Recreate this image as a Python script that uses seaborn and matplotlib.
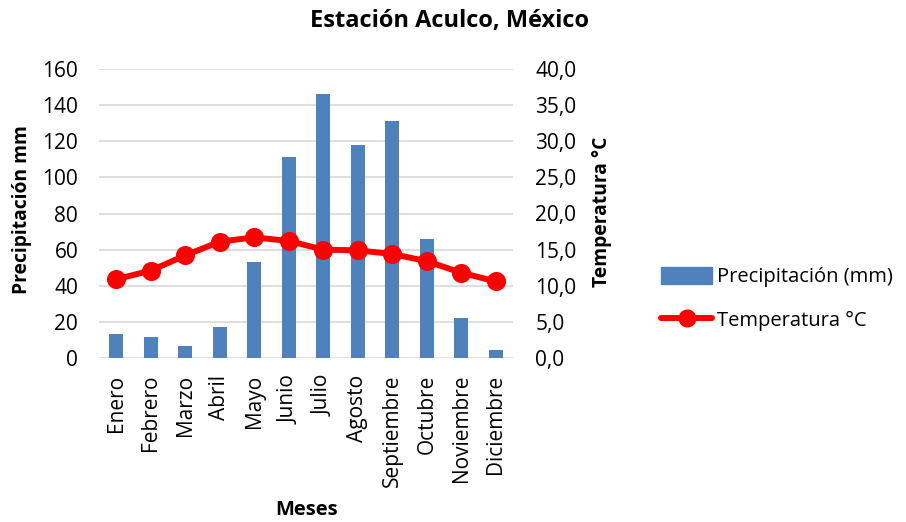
import matplotlib
matplotlib.use("Agg")
import matplotlib.pyplot as plt
import seaborn as sns
import pandas as pd
from matplotlib.lines import Line2D
from matplotlib.patches import Patch
from matplotlib.ticker import FuncFormatter

meses = ["Enero", "Febrero", "Marzo", "Abril", "Mayo", "Junio", "Julio",
         "Agosto", "Septiembre", "Octubre", "Noviembre", "Diciembre"]
precipitacion = [13.5, 11.7, 6.9, 16.9, 53.0, 111.5, 146.1, 117.8, 131.1, 65.9, 22.4, 4.3]
temperatura = [10.9, 12.1, 14.2, 16.1, 16.7, 16.2, 15.0, 14.9, 14.4, 13.4, 11.8, 10.6]

df = pd.DataFrame({"Mes": meses, "Precipitacion": precipitacion, "Temperatura": temperatura})

sns.set_theme(style="white")
FONT = "Open Sans"
plt.rcParams["font.family"] = [FONT, "DejaVu Sans"]
for k in ["text.color", "axes.labelcolor", "xtick.color", "ytick.color"]:
    plt.rcParams[k] = "black"

BLUE = "#4F81BD"
RED = "#FF0000"
GRID = "#D9D9D9"
FS = 15
FL = 13.9

W, H = 906, 522
fig = plt.figure(figsize=(W/100, H/100), dpi=100)
ax = fig.add_axes([99/W, 1-358/H, (513-99)/W, (358-69)/H])

sns.barplot(data=df, x="Mes", y="Precipitacion", color=BLUE, width=0.40,
            saturation=1, linewidth=0, ax=ax, zorder=2)
ax.set_ylim(0, 160)
ax.set_yticks(range(0, 161, 20))
ax.set_xlim(-0.5, 11.5)
ax.grid(axis="y", color=GRID, linewidth=1.2, zorder=0)
ax.set_axisbelow(True)
for s in ax.spines.values():
    s.set_visible(False)
ax.tick_params(axis="both", length=0, labelsize=FS)
ax.tick_params(axis="y", pad=15)
ax.tick_params(axis="x", pad=12)
plt.setp(ax.get_xticklabels(), rotation=90)
ax.set_xlabel("Meses", fontsize=14.5, fontweight="bold")
ax.set_ylabel("Precipitación mm", fontsize=FL, fontweight="bold")
ax.yaxis.label.set_va("center")
ax.xaxis.label.set_va("center")
ax.yaxis.set_label_coords((22-99)/414, (358-210)/289)
ax.xaxis.set_label_coords((307-99)/414, (358-510)/289)

ax2 = ax.twinx()
sns.pointplot(data=df, x="Mes", y="Temperatura", color=RED, ax=ax2,
              markers="o", linestyles="-", markersize=10.5, linewidth=4.3)
ax2.set_ylim(0, 40)
ax2.set_yticks(range(0, 41, 5))
ax2.yaxis.set_major_formatter(FuncFormatter(lambda v, p: f"{v:.1f}".replace(".", ",")))
ax2.set_xlim(-0.5, 11.5)
for s in ax2.spines.values():
    s.set_visible(False)
ax2.tick_params(axis="y", length=0, labelsize=FS, pad=16)
ax2.set_ylabel("Temperatura °C", fontsize=FL, fontweight="bold")
ax2.yaxis.label.set_va("center")
ax2.yaxis.set_label_coords((602-99)/414, (358-212)/289)
ax2.grid(False)

fig.suptitle("Estación Aculco, México", x=449/W, y=1-21/H, va="center",
             fontsize=17, fontweight="bold")

handles = [Patch(facecolor=BLUE, edgecolor=BLUE),
           Line2D([0], [0], color=RED, linewidth=4.3, marker="o", markersize=12)]
fig.legend(handles, ["Precipitación (mm)", "Temperatura °C"],
           loc="center left", bbox_to_anchor=(643/W, 1-299/H), frameon=False,
           fontsize=14.5, handlelength=2.55, handleheight=0.9, handletextpad=0.2,
           labelspacing=1.15)

fig.savefig("out.png", dpi=100)
